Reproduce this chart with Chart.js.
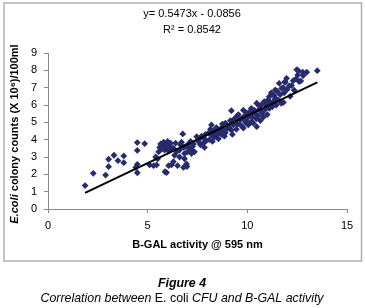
<!DOCTYPE html>
<html>
<head>
<meta charset="utf-8">
<script src="https://cdn.jsdelivr.net/npm/chart.js@4/dist/chart.umd.min.js"></script>
<style>
html, body { margin: 0; padding: 0; background: #fff; }
#wrap { width: 365px; height: 308px; }
</style>
</head>
<body>
<div id="wrap"><canvas id="chart" width="365" height="308"></canvas></div>
<script>
'use strict';

// B-GAL activity @ 595 nm (x)
var activity = [
	1.86, 2.27, 2.89, 3.04, 3.04, 3.31, 3.51, 3.80, 3.80, 4.48, 4.85, 4.48, 4.48, 4.40, 4.48,
	5.10, 5.30, 5.45, 5.50, 5.55, 5.60, 5.65, 5.70, 5.75, 5.80, 5.85, 5.90, 5.95, 6.00, 6.05,
	6.10, 6.15, 6.20, 5.87, 5.95, 6.05, 6.20, 6.29, 6.35, 6.50, 6.45, 6.60, 6.60, 6.65, 6.70,
	6.76, 6.80, 6.85, 6.85, 6.90, 6.95, 6.80, 6.97, 7.00, 7.05, 7.10, 7.15, 7.20, 7.20, 7.25,
	7.30, 7.35, 6.40, 6.30, 5.40,
	7.46, 7.55, 7.60, 7.65, 7.70, 7.80, 7.80, 7.85, 7.90, 7.95, 8.05, 8.10, 8.15, 8.20, 8.20,
	8.25, 8.30, 8.35, 8.40, 8.45, 8.50, 8.55, 8.60, 8.70, 8.70, 8.75, 8.80, 8.85, 8.90, 8.90, 8.95,
	9.05, 9.10, 9.15, 9.20, 9.20, 9.25, 9.30, 9.35, 9.40, 9.45, 9.47, 9.50, 9.55, 9.60, 9.65,
	9.70, 9.75, 9.80, 9.80, 9.85, 9.90, 9.93, 9.95, 10.00, 10.05, 10.10, 10.15, 10.20, 10.20, 10.20,
	10.25, 10.30, 10.35, 10.39, 10.45, 10.47, 10.47,
	10.55, 10.60, 10.60, 10.65, 10.70, 10.75, 10.80, 10.85, 10.90, 10.95, 10.97, 11.00, 11.05, 11.10, 11.10,
	11.15, 11.20, 11.25, 11.30, 11.35, 11.40, 11.40, 11.45, 11.50, 11.55, 11.60, 11.65, 11.70, 11.72, 11.81,
	11.80, 11.85, 11.89, 11.90, 11.97, 12.00,
	12.10, 12.15, 12.22, 12.30, 12.35, 12.44, 12.48, 12.53, 12.56, 12.60, 12.68, 12.78, 12.80, 12.98, 13.51
];

// E.coli colony counts (X 10^6)/100ml (y)
var counts = [
	1.35, 2.06, 1.96, 2.87, 2.44, 3.10, 2.79, 3.06, 2.67, 3.83, 3.77, 3.38, 2.58, 2.40, 2.09,
	2.54, 2.50, 2.54, 2.90, 3.30, 3.55, 3.75, 3.45, 3.60, 3.85, 3.40, 3.70, 3.55, 3.90, 3.35,
	3.65, 3.80, 3.50, 2.15, 2.10, 2.50, 2.54, 2.73, 3.10, 2.50, 3.30, 3.00, 3.40, 3.70, 3.85,
	4.33, 3.55, 3.20, 2.90, 3.60, 2.60, 2.40, 2.45, 3.30, 3.75, 3.50, 3.90, 3.40, 3.20, 3.60,
	3.75, 3.30, 3.80, 3.50, 3.00,
	4.17, 3.90, 4.05, 3.70, 4.20, 4.10, 3.80, 3.55, 4.30, 3.95, 4.38, 4.00, 4.60, 4.85, 4.27,
	3.90, 4.50, 4.15, 4.45, 4.70, 4.30, 4.05, 4.55, 4.30, 4.67, 4.90, 4.45, 4.20, 4.40, 4.96, 4.60,
	4.75, 4.67, 5.10, 5.67, 4.55, 4.30, 4.85, 5.20, 5.00, 4.60, 5.33, 4.90, 5.45, 4.90, 5.15,
	5.20, 4.75, 4.67, 5.70, 5.35, 5.00, 5.10, 5.55, 5.25, 4.85, 5.40, 5.65, 5.55, 5.81, 5.04,
	5.30, 4.95, 5.70, 5.52, 5.20, 6.10, 4.75,
	5.40, 5.75, 5.95, 5.10, 6.00, 5.55, 5.30, 6.20, 5.75, 5.95, 6.03, 5.45, 6.30, 5.80, 6.48,
	6.10, 6.70, 5.90, 6.20, 6.55, 6.87, 6.40, 6.00, 6.80, 6.30, 7.25, 6.60, 6.10, 6.96, 6.15,
	7.00, 6.70, 7.35, 7.30, 7.54, 6.90,
	7.10, 6.50, 7.12, 7.40, 6.85, 7.50, 8.04, 7.73, 7.98, 7.35, 7.39, 7.89, 7.70, 7.89, 7.98
];

// linear trendline as printed on the chart
var slope = 0.5473,
	intercept = -0.0856,
	rSquared = 0.8542;

var xLabel = 'B-GAL activity @ 595 nm',
	yLabelItalic = 'E.coli',
	yLabelRest = ' colony counts (X 10\u2076)/100ml',
	figureTitle = 'Figure 4';

var font = '"Liberation Sans", Arial, sans-serif',
	markerColor = '#272a6c',
	axisColor = '#8a8a8a';

var points = activity.map(function (x, i) {
	return { x: x, y: counts[i] };
});

var xMin = Math.min.apply(null, activity),
	xMax = Math.max.apply(null, activity);
var trend = [xMin, xMax].map(function (x) {
	return { x: x, y: slope * x + intercept };
});

// draw a run of differently styled pieces centred on cx
function drawRuns(ctx, runs, cx, cy) {
	var total = 0;
	runs.forEach(function (r) {
		ctx.font = r.font;
		r.w = ctx.measureText(r.text).width;
		total += r.w;
	});
	var x = cx - total / 2;
	runs.forEach(function (r) {
		ctx.font = r.font;
		ctx.fillText(r.text, x, cy);
		x += r.w;
	});
}

var decorations = {
	id: 'decorations',
	afterDraw: function (chart) {
		var ctx = chart.ctx,
			area = chart.chartArea;
		ctx.save();

		// outer frame of the figure
		ctx.strokeStyle = '#b0b0b0';
		ctx.lineWidth = 1.5;
		ctx.strokeRect(4, 3, 357.5, 258);

		ctx.fillStyle = '#000';
		ctx.textAlign = 'left';
		ctx.textBaseline = 'middle';

		// trendline equation
		var eq = 'y= ' + slope.toFixed(4) + 'x - ' + Math.abs(intercept).toFixed(4);
		drawRuns(ctx, [{ text: eq, font: '11px ' + font }], 192, 14);
		drawRuns(ctx, [{ text: 'R\u00b2 = ' + rSquared.toFixed(4), font: '11px ' + font }], 192, 30);

		// x axis title
		drawRuns(ctx, [{ text: xLabel, font: 'bold 11px ' + font }],
			(area.left + area.right) / 2, 245);

		// y axis title
		ctx.save();
		ctx.translate(15, 134);
		ctx.rotate(-Math.PI / 2);
		drawRuns(ctx, [
			{ text: yLabelItalic, font: 'italic bold 11px ' + font },
			{ text: yLabelRest, font: 'bold 11px ' + font }
		], 0, 0);
		ctx.restore();

		// caption
		drawRuns(ctx, [{ text: figureTitle, font: 'italic bold 12.4px ' + font }], 182, 284);
		drawRuns(ctx, [
			{ text: 'Correlation between ', font: 'italic 12.4px ' + font },
			{ text: 'E. coli', font: '12.4px ' + font },
			{ text: ' CFU and B-GAL activity', font: 'italic 12.4px ' + font }
		], 182, 299);

		ctx.restore();
	}
};

new Chart(document.getElementById('chart'), {
	type: 'scatter',
	data: {
		datasets: [{
			label: 'counts',
			data: points,
			pointStyle: 'rectRot',
			pointRadius: 3.4,
			pointBorderWidth: 0,
			pointBackgroundColor: markerColor,
			pointBorderColor: markerColor,
			order: 2
		}, {
			type: 'line',
			label: 'trend',
			data: trend,
			borderColor: '#000',
			borderWidth: 2,
			pointRadius: 0,
			fill: false,
			order: 1
		}]
	},
	options: {
		responsive: false,
		animation: false,
		layout: { padding: { top: 53, right: 18, left: 0, bottom: 0 } },
		plugins: {
			legend: { display: false },
			tooltip: { enabled: false }
		},
		scales: {
			x: {
				type: 'linear',
				min: 0,
				max: 15,
				ticks: { stepSize: 5, color: '#000', font: { size: 11, family: font }, padding: 6 },
				grid: { drawOnChartArea: false, drawTicks: true, tickLength: 4, color: axisColor },
				border: { color: axisColor, width: 1 },
				afterFit: function (scale) { scale.height = 99; }
			},
			y: {
				min: 0,
				max: 9,
				ticks: { stepSize: 1, color: '#000', font: { size: 11, family: font }, padding: 7 },
				grid: { drawOnChartArea: false, drawTicks: true, tickLength: 4, color: axisColor },
				border: { color: axisColor, width: 1 },
				afterFit: function (scale) { scale.width = 48; }
			}
		}
	},
	plugins: [decorations]
});
</script>
</body>
</html>
